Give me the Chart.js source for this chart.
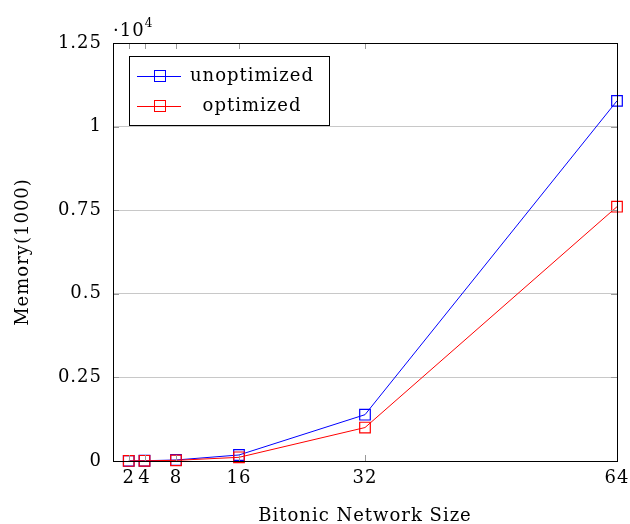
<!DOCTYPE html>
<html>
<head>
<meta charset="utf-8">
<script src="https://cdn.jsdelivr.net/npm/chart.js@4.4.0/dist/chart.umd.min.js"></script>
<style>
  html, body { margin: 0; padding: 0; background: #fff; }
  #wrap { width: 630px; height: 524px; }
</style>
</head>
<body>
<div id="wrap"><canvas id="memChart" width="630" height="524"></canvas></div>
<script>
// Data
const networkSizes = [2, 4, 8, 16, 32, 64];
const unoptimized = [3, 8, 30, 180, 1385, 10770];
const optimized = [2, 6, 20, 110, 1000, 7605];
const xTicks = [2, 4, 8, 16, 32, 64];
const yTicks = [0, 2500, 5000, 7500, 10000, 12500];

const FONT = '"DejaVu Serif", "Liberation Serif", serif';
const FS = 18;
const SPACING = '1px';

// a bit of letter spacing so the text is closer to the LaTeX look
const spacingPlugin = {
    id: 'spacing',
    beforeLayout(chart) { chart.ctx.letterSpacing = SPACING; },
    beforeDraw(chart) { chart.ctx.letterSpacing = SPACING; }
};

// frame, inner tick marks, legend box and the 10^4 label
const framePlugin = {
    id: 'frame',
    afterDraw(chart) {
        const ctx = chart.ctx;
        const a = chart.chartArea;
        const xs = chart.scales.x, ys = chart.scales.y;
        ctx.save();
        // tick marks (inward)
        ctx.strokeStyle = '#999';
        ctx.lineWidth = 1;
        ctx.beginPath();
        xTicks.forEach(t => {
            const px = Math.round(xs.getPixelForValue(t)) + 0.5;
            ctx.moveTo(px, a.bottom); ctx.lineTo(px, a.bottom - 6);
            ctx.moveTo(px, a.top); ctx.lineTo(px, a.top + 6);
        });
        yTicks.forEach(t => {
            const py = Math.round(ys.getPixelForValue(t)) + 0.5;
            ctx.moveTo(a.left, py); ctx.lineTo(a.left + 6, py);
            ctx.moveTo(a.right, py); ctx.lineTo(a.right - 6, py);
        });
        ctx.stroke();
        // frame
        ctx.strokeStyle = '#000';
        ctx.strokeRect(Math.round(a.left) + 0.5, Math.round(a.top) + 0.5,
            Math.round(a.right - a.left), Math.round(a.bottom - a.top));

        // legend
        const lx = 129, ly = 56, lw = 200, lh = 69;
        ctx.fillStyle = '#fff';
        ctx.fillRect(lx, ly, lw, lh);
        ctx.strokeStyle = '#000';
        ctx.strokeRect(lx + 0.5, ly + 0.5, lw, lh);
        chart.data.datasets.forEach((ds, i) => {
            const cy = 76 + i * 30;
            ctx.strokeStyle = ds.borderColor;
            ctx.beginPath();
            ctx.moveTo(137, cy + 0.5); ctx.lineTo(181, cy + 0.5);
            ctx.stroke();
            ctx.strokeRect(154.5, cy - 5.5, 11, 11);
            ctx.fillStyle = '#000';
            ctx.font = FS + 'px ' + FONT;
            ctx.textAlign = 'center';
            ctx.textBaseline = 'middle';
            ctx.fillText(ds.label, 252, cy);
        });

        // exponent label
        ctx.fillStyle = '#000';
        ctx.textAlign = 'left';
        ctx.textBaseline = 'alphabetic';
        ctx.font = FS + 'px ' + FONT;
        ctx.fillText('\u00b710', 113, 36);
        const w = ctx.measureText('\u00b710').width;
        ctx.font = '12px ' + FONT;
        ctx.fillText('4', 113 + w, 27);
        ctx.restore();
    }
};

const ctx = document.getElementById('memChart').getContext('2d');
new Chart(ctx, {
    type: 'line',
    data: {
        datasets: [{
            label: 'unoptimized',
            data: networkSizes.map((x, i) => ({ x: x, y: unoptimized[i] })),
            borderColor: '#0000ff',
            backgroundColor: 'rgba(0,0,0,0)',
            borderWidth: 1,
            pointStyle: 'rect',
            pointRadius: 7.5,
            pointBorderWidth: 1.2,
            pointBackgroundColor: 'rgba(0,0,0,0)',
            tension: 0,
            clip: false,
            order: 1
        }, {
            label: 'optimized',
            data: networkSizes.map((x, i) => ({ x: x, y: optimized[i] })),
            borderColor: '#ff0000',
            backgroundColor: 'rgba(0,0,0,0)',
            borderWidth: 1,
            pointStyle: 'rect',
            pointRadius: 7.5,
            pointBorderWidth: 1.2,
            pointBackgroundColor: 'rgba(0,0,0,0)',
            tension: 0,
            clip: false,
            order: 0
        }]
    },
    options: {
        responsive: false,
        animation: false,
        layout: { padding: { left: 0, top: 43, right: 13, bottom: 0 } },
        plugins: {
            legend: { display: false },
            tooltip: { enabled: false }
        },
        scales: {
            x: {
                type: 'linear',
                min: 0,
                max: 64,
                afterBuildTicks(scale) { scale.ticks = xTicks.map(v => ({ value: v })); },
                afterFit(scale) {
                    scale.height = 63;
                    scale.paddingLeft = 0;
                    scale.paddingRight = 0;
                },
                grid: { display: false, drawTicks: false },
                border: { display: false },
                ticks: {
                    color: '#000',
                    font: { family: FONT, size: FS },
                    padding: 7,
                    maxRotation: 0,
                    autoSkip: false
                },
                title: {
                    display: true,
                    text: 'Bitonic Network Size',
                    color: '#000',
                    font: { family: FONT, size: FS, lineHeight: 1 },
                    padding: { top: 0, bottom: -1 }
                }
            },
            y: {
                min: 0,
                max: 12500,
                afterBuildTicks(scale) { scale.ticks = yTicks.map(v => ({ value: v })); },
                afterFit(scale) { scale.width = 113; },
                grid: { color: '#c8c8c8', lineWidth: 1, drawTicks: false },
                border: { display: false },
                ticks: {
                    color: '#000',
                    font: { family: FONT, size: FS },
                    padding: 11,
                    callback: v => String(v / 10000)
                },
                title: {
                    display: true,
                    text: 'Memory(1000)',
                    color: '#000',
                    font: { family: FONT, size: FS, lineHeight: 1 },
                    padding: { top: 14, bottom: 0 }
                }
            }
        }
    },
    plugins: [spacingPlugin, framePlugin]
});
</script>
</body>
</html>
